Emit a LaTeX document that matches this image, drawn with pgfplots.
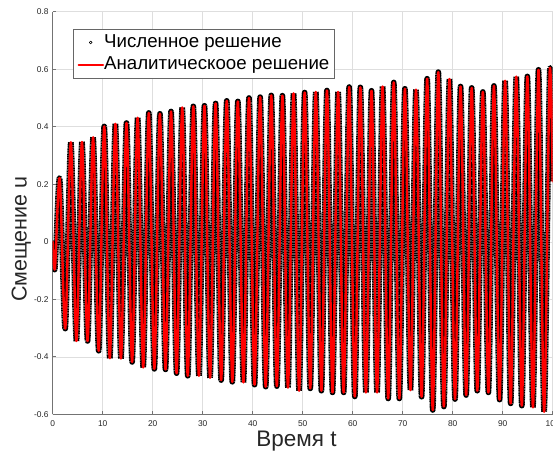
\documentclass[border=0pt]{standalone}
\usepackage{fontspec}
\setmainfont{Liberation Sans}
\usepackage{pgfplots}
\usepackage{pgfplotstable}
\pgfplotsset{compat=1.18}

% Displacement u(t): start, then successive maxima and minima of the oscillation
\pgfplotstableread{
t u
0.00 0.000
0.46 -0.092
1.40 0.220
2.51 -0.302
3.63 0.346
4.74 -0.345
5.85 0.347
6.97 -0.345
8.08 0.363
9.20 -0.379
10.31 0.401
11.42 -0.405
12.54 0.410
13.65 -0.406
14.76 0.413
15.88 -0.418
16.99 0.431
18.10 -0.437
19.22 0.448
20.33 -0.442
21.44 0.445
22.56 -0.444
23.67 0.453
24.78 -0.457
25.90 0.467
27.01 -0.466
28.12 0.471
29.24 -0.466
30.35 0.473
31.47 -0.473
32.58 0.481
33.69 -0.481
34.81 0.490
35.92 -0.487
37.03 0.488
38.15 -0.489
39.26 0.500
40.37 -0.497
41.49 0.503
42.60 -0.504
43.71 0.509
44.83 -0.502
45.94 0.508
47.05 -0.507
48.17 0.516
49.28 -0.518
50.39 0.519
51.51 -0.510
52.62 0.521
53.74 -0.518
54.85 0.526
55.96 -0.524
57.08 0.521
58.19 -0.524
59.30 0.538
60.42 -0.538
61.53 0.537
62.64 -0.524
63.76 0.525
64.87 -0.524
65.98 0.540
67.10 -0.545
68.21 0.554
69.32 -0.545
70.44 0.532
71.55 -0.516
72.66 0.529
73.78 -0.539
74.89 0.567
76.01 -0.585
77.12 0.590
78.23 -0.573
79.35 0.566
80.46 -0.547
81.57 0.540
82.69 -0.533
83.80 0.535
84.91 -0.518
86.03 0.521
87.14 -0.524
88.25 0.542
89.37 -0.549
90.48 0.560
91.59 -0.562
92.71 0.574
93.82 -0.570
94.93 0.575
96.05 -0.576
97.16 0.598
98.28 -0.591
99.39 0.589
100.00 0.210
}\disp

\begin{document}
\begin{tikzpicture}
\begin{axis}[
  name=ax,
  width=500bp, height=402.6bp, scale only axis,
  xmin=0, xmax=100, ymin=-0.6, ymax=0.8,
  xtick={0,10,20,30,40,50,60,70,80,90,100},
  xticklabels={0,10,20,30,40,50,60,70,80,90,100},
  ytick={-0.6,-0.4,-0.2,0,0.2,0.4,0.6,0.8},
  yticklabels={-0.6,-0.4,-0.2,0,0.2,0.4,0.6,0.8},
  axis x line*=bottom, axis y line*=left,
  axis line style={-, black!55, line width=0.6bp},
  tick align=inside, major tick length=3.5bp,
  tick style={black!55, line width=0.6bp},
  grid=major, major grid style={black!13, line width=0.5bp},
  tick label style={font=\fontsize{8.4bp}{10bp}\selectfont, text=black!85, inner sep=0bp},
  xticklabel style={yshift=-6bp},
  yticklabel style={xshift=-4bp},
  xlabel={Время t},
  ylabel={Смещение u},
  label style={text=black!85},
  xlabel style={font=\fontsize{22.5bp}{26bp}\selectfont,
    at={(axis description cs:0.4876,-0.0812)}, anchor=base},
  ylabel style={font=\fontsize{21.5bp}{25bp}\selectfont,
    at={(axis description cs:-0.052,0.435)}, anchor=base},
  legend cell align=left,
  legend style={at={(0.04,0.956)}, anchor=north west,
    draw=black!60, line width=0.5bp, fill=white,
    inner xsep=4.6bp, inner ysep=4bp,
    font=\fontsize{18.7bp}{22bp}\selectfont, text=black,
    row sep=5.2bp,
    nodes={inner sep=0bp, text height=13.4bp, text depth=4.2bp},
    /tikz/every even column/.append style={column sep=5.6bp}},
]
% numerical solution: dense open markers along the trajectory
\addplot[black, smooth, line width=5.6bp, line join=round,
  dash pattern=on 1.2bp off 0.5bp,
  legend image code/.code={\draw[black, line width=0.6bp, solid] (12bp,0bp) circle (1.4bp);}]
  table[x=t, y=u] {\disp};
\addlegendentry{Численное решение}
% analytical solution
\addplot[red, smooth, line width=2.4bp, line join=round, line cap=round,
  legend image code/.code={\draw[red, line width=2.2bp] (0bp,0bp) -- (24.4bp,0bp);}]
  table[x=t, y=u] {\disp};
\addlegendentry{Аналитическоое решение}
\end{axis}
\pgfresetboundingbox
\path[use as bounding box] ([shift={(-52.7bp,-38.7bp)}]ax.south west) rectangle ([shift={(0.3bp,11.7bp)}]ax.north east);
\end{tikzpicture}
\end{document}
